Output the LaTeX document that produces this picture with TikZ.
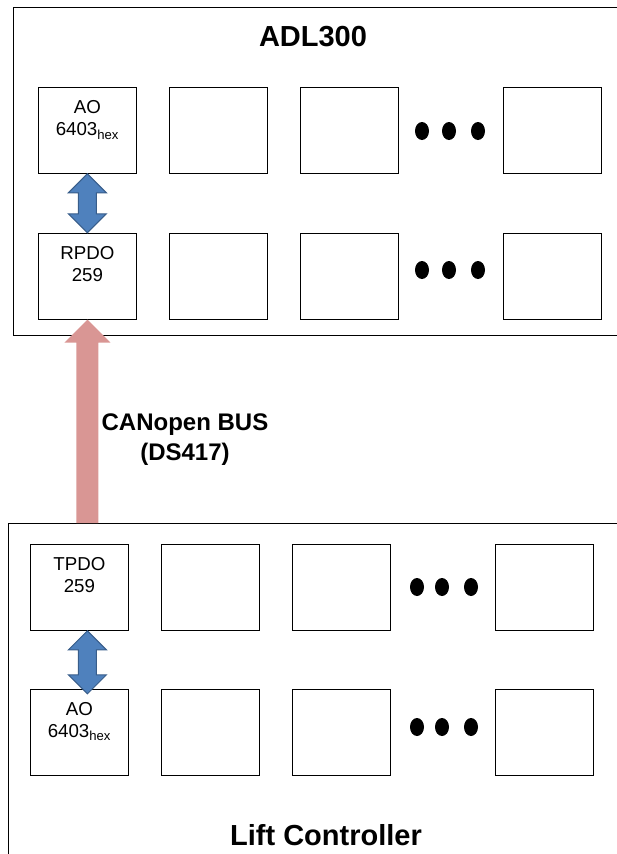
\documentclass[tikz,border=0pt]{standalone}
\usepackage{fontspec}
\setmainfont{Liberation Sans}
\usetikzlibrary{positioning,calc}
\definecolor{ioblue}{HTML}{4F81BD}
\definecolor{ioedge}{HTML}{385D8A}
\definecolor{buspink}{HTML}{D99694}
\tikzset{
  % Device frames (run past the page edge)
  frame/.style={draw=black,line width=0.8pt,anchor=north west,inner sep=0pt},
  % Object boxes
  obj/.style={draw=black,line width=0.8pt,minimum width=98pt,minimum height=86pt,
              inner sep=0pt},
  objlb/.style={font=\fontsize{18.7}{22.4}\selectfont,align=center,inner sep=0pt},
  ttl/.style={font=\fontsize{29}{34}\selectfont\bfseries,inner sep=0pt},
  buslb/.style={font=\fontsize{24}{30}\selectfont\bfseries,align=center,inner sep=0pt},
  % Arrows
  io/.style={fill=ioblue,draw=ioedge,line width=1pt,line join=miter},
  bus/.style={fill=buspink},
  dot/.style={fill=black}
}
% Fat double arrow between two points (top point first)
\newcommand{\ioarrow}[2]{%
  \filldraw[io] (#1) -- ++(19,19) -- ++(-10,0) -- ($(#2)+(9,-19)$) -- ++(10,0)
    -- (#2) -- ++(-19,-19) -- ++(10,0) -- ($(#1)+(-9,19)$) -- ++(-10,0) -- cycle;}

\begin{document}
\begin{tikzpicture}[x=1pt,y=-1pt]
  \useasboundingbox (0,0) rectangle (616,854);

  % --- Frames ---
  \node[frame,minimum width=617pt,minimum height=328pt] (adl) at (13,7) {};
  \node[frame,minimum width=622pt,minimum height=347pt] (lc) at (8,523) {};
  \node[ttl,anchor=base] (adlt) at (313,46) {ADL300};
  \node[ttl,anchor=base] (lct) at (326,845) {Lift Controller};

  % --- ADL300 objects ---
  \node[obj,anchor=north west] (ao1) at (38,87) {};
  \node[obj,right=32pt of ao1] (a12) {};
  \node[obj,right=32pt of a12] (a13) {};
  \node[obj,anchor=north west] (a14) at (503,87) {};
  \node[obj,below=59pt of ao1] (rpdo1) {};
  \node[obj,right=32pt of rpdo1] (r12) {};
  \node[obj,right=32pt of r12] (r13) {};
  \node[obj,below=59pt of a14] (r14) {};

  \node[objlb,below=13pt of ao1.north] {AO\\6403\textsubscript{hex}};
  \node[objlb,below=13pt of rpdo1.north] {RPDO\\259};

  % --- Lift controller objects ---
  \node[obj,anchor=north west] (tpdo2) at (30,544) {};
  \node[obj,right=32pt of tpdo2] (t22) {};
  \node[obj,right=32pt of t22] (t23) {};
  \node[obj,anchor=north west] (t24) at (495,544) {};
  \node[obj,below=58pt of tpdo2] (ao2) {};
  \node[obj,right=32pt of ao2] (b22) {};
  \node[obj,right=32pt of b22] (b23) {};
  \node[obj,below=58pt of t24] (b24) {};

  \node[objlb,below=13pt of tpdo2.north] {TPDO\\259};
  \node[objlb,below=13pt of ao2.north] {AO\\6403\textsubscript{hex}};

  % --- Dots ---
  \foreach \x in {422,449,478}
    \foreach \y in {131,270}
      \fill[dot] (\x,\y) ellipse (7pt and 9pt);
  \foreach \x in {417,442,471}
    \foreach \y in {587,727}
      \fill[dot] (\x,\y) ellipse (7pt and 9pt);

  % --- Mapping arrows ---
  \ioarrow{ao1.south}{rpdo1.north}
  \coordinate (ioa) at ($(tpdo2.south)+(8,0)$);
  \coordinate (iob) at ($(ao2.north)+(8,5)$);
  \ioarrow{ioa}{iob}

  % --- CAN bus ---
  \fill[bus] (rpdo1.south) -- ++(23,23) -- ++(-12,0)
    -- ($(rpdo1.south |- lc.north)+(11,0)$) -- ++(-22,0)
    -- ($(rpdo1.south)+(-11,23)$) -- ++(-12,0) -- cycle;
  \node[buslb] (busl) at (185,440) {CANopen BUS\\(DS417)};
\end{tikzpicture}
\end{document}
